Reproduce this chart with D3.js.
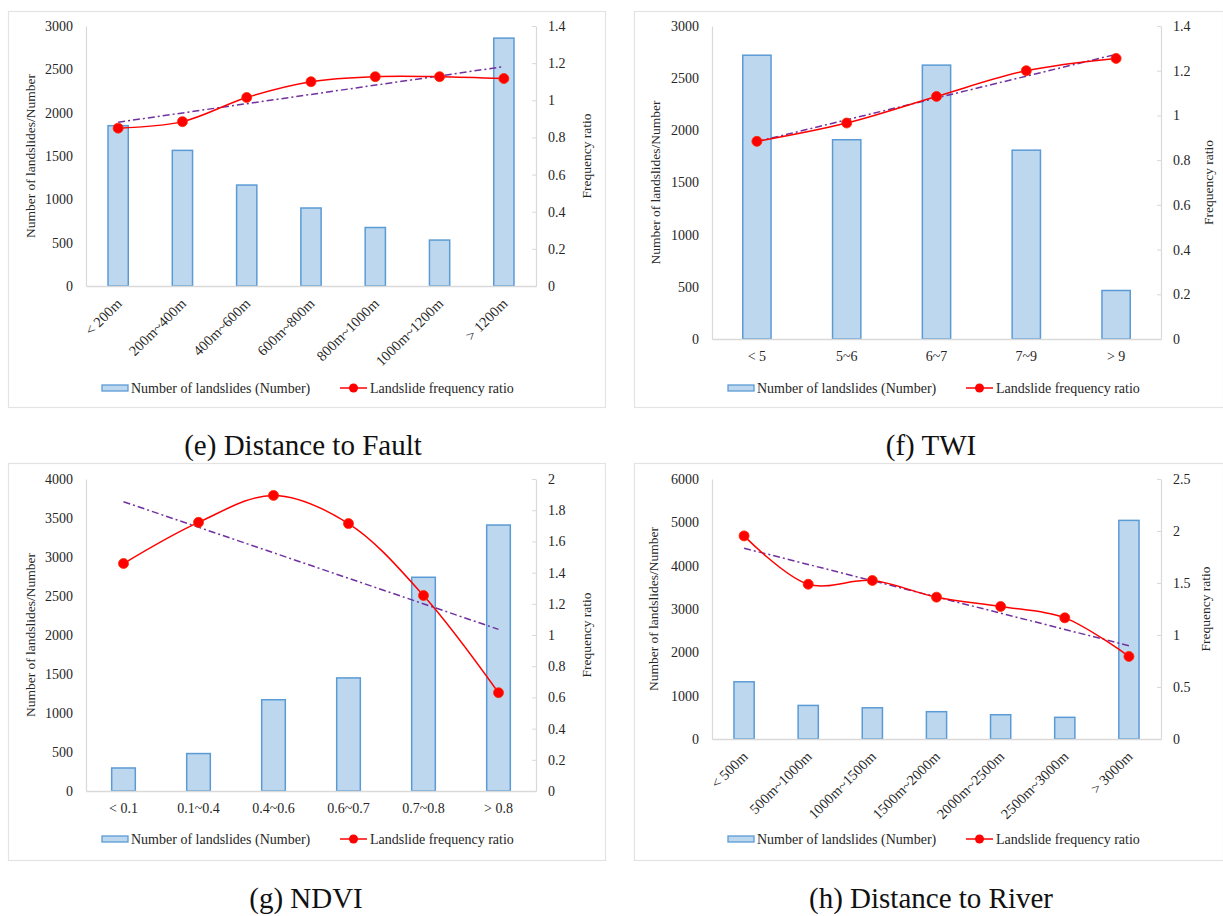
<!DOCTYPE html>
<html><head><meta charset="utf-8">
<script src="https://cdn.jsdelivr.net/npm/d3@7"></script>
<style>
html,body{margin:0;padding:0;background:#fff;}
svg{display:block;}
text{font-family:"Liberation Serif","Times New Roman",serif;}
</style></head>
<body><svg id="chart" width="1223" height="916"></svg>
<script>
// ---------- data ----------
const catsFault = ["< 200m","200m~400m","400m~600m","600m~800m","800m~1000m","1000m~1200m","> 1200m"];
const numFault  = [1850,1565,1165,900,675,530,2860];
const frFault   = [0.850,0.885,1.015,1.100,1.127,1.127,1.117];

const catsTWI = ["< 5","5~6","6~7","7~9","> 9"];
const numTWI  = [2720,1910,2625,1810,465];
const frTWI   = [0.884,0.966,1.085,1.200,1.255];

const catsNDVI = ["< 0.1","0.1~0.4","0.4~0.6","0.6~0.7","0.7~0.8","> 0.8"];
const numNDVI  = [295,480,1170,1450,2740,3410];
const frNDVI   = [1.458,1.722,1.895,1.714,1.253,0.630];

const catsRiver = ["< 500m","500m~1000m","1000m~1500m","1500m~2000m","2000m~2500m","2500m~3000m","> 3000m"];
const numRiver  = [1320,775,720,630,560,500,5045];
const frRiver   = [1.953,1.488,1.524,1.364,1.274,1.165,0.794];

const leftTitle = "Number of landslides/Number";
const rightTitle = "Frequency ratio";
const legendBar = "Number of landslides (Number)";
const legendLine = "Landslide frequency ratio";

// ---------- drawing ----------
const svg = d3.select("#chart");
svg.append("rect").attr("width",1223).attr("height",916).attr("fill","#fff");

const AX = "#d9d9d9", TXT = "#262626";

function linreg(ys){
  const n = ys.length, xs = d3.range(n);
  const mx = d3.mean(xs), my = d3.mean(ys);
  const b = d3.sum(xs, (x,i)=>(x-mx)*(ys[i]-my)) / d3.sum(xs, x=>(x-mx)*(x-mx));
  return [my - b*mx, b];
}

function panel(o){
  const g = svg.append("g");
  g.append("rect").attr("x",o.frame[0]+0.5).attr("y",o.frame[1]+0.5)
    .attr("width",o.frame[2]).attr("height",o.frame[3])
    .attr("fill","#fff").attr("stroke","#e3e3e3").attr("stroke-width",1.2);

  const [L,R,T,B] = o.plot;
  const x = d3.scaleBand().domain(o.cats).range([L,R]).padding(0);
  const cx = c => x(c) + x.bandwidth()/2;
  const y = d3.scaleLinear().domain([0,o.yMax]).range([B,T]);
  const r = d3.scaleLinear().domain([0,o.rMax]).range([B,T]);

  // left axis
  const ya = d3.axisLeft(y).tickValues(d3.range(0,o.yMax+1,o.yStep)).tickFormat(d3.format("d"))
    .tickSize(0).tickPadding(13).tickSizeOuter(0);
  const gy = g.append("g").attr("transform",`translate(${L},0)`).call(ya);
  gy.select(".domain").attr("stroke",AX).attr("stroke-width",1.2);
  gy.selectAll("text").attr("font-size",14).attr("fill",TXT);

  // right axis
  const nR = Math.round(o.rMax/o.rStep);
  const rTicks = d3.range(nR+1).map(i=>+(i*o.rStep).toFixed(2));
  const ra = d3.axisRight(r).tickValues(rTicks).tickFormat(d=>String(d)).tickSize(-4).tickPadding(12).tickSizeOuter(0);
  const gr = g.append("g").attr("transform",`translate(${R},0)`).call(ra);
  gr.select(".domain").attr("stroke",AX).attr("stroke-width",1.2);
  gr.selectAll(".tick line").attr("stroke",AX);
  gr.selectAll("text").attr("font-size",14).attr("fill",TXT);

  // bars
  const bw = x.bandwidth()*0.315;
  g.append("g").selectAll("rect").data(o.nums).join("rect")
    .attr("x",(d,i)=>cx(o.cats[i])-bw/2).attr("y",d=>y(d))
    .attr("width",bw).attr("height",d=>B-y(d))
    .attr("fill","#bdd7ee").attr("stroke","#5b9bd5").attr("stroke-width",1.5);

  // bottom axis
  const xa = d3.axisBottom(x).tickSize(0).tickSizeOuter(0).tickPadding(12);
  const gx = g.append("g").attr("transform",`translate(0,${B})`).call(xa);
  gx.select(".domain").attr("stroke",AX).attr("stroke-width",1.5);
  gx.selectAll("text").attr("font-size",14).attr("fill",TXT);
  if(o.rotate){
    gx.selectAll("text").attr("text-anchor","end").attr("y",0).attr("dy","0.35em")
      .attr("font-size",14.5)
      .attr("transform","translate(1,15) rotate(-45)");
  }

  // trend line
  const [a,b] = linreg(o.frs);
  const n = o.cats.length;
  g.append("line")
    .attr("x1",cx(o.cats[0])).attr("y1",r(a))
    .attr("x2",cx(o.cats[n-1])).attr("y2",r(a+b*(n-1)))
    .attr("stroke","#7030a0").attr("stroke-width",1.5).attr("stroke-dasharray","7,3,2,3");

  // smoothed line
  const line = d3.line().x((d,i)=>cx(o.cats[i])).y(d=>r(d)).curve(d3.curveCatmullRom.alpha(0.5));
  g.append("path").datum(o.frs).attr("d",line).attr("fill","none").attr("stroke","#ff0000").attr("stroke-width",1.5);
  g.append("g").selectAll("circle").data(o.frs).join("circle")
    .attr("cx",(d,i)=>cx(o.cats[i])).attr("cy",d=>r(d)).attr("r",5)
    .attr("fill","#ff0000").attr("stroke","#ff2a00").attr("stroke-width",0.8);

  // titles
  g.append("text").attr("transform",`translate(${o.ltx},${(T+B)/2}) rotate(-90)`)
    .attr("text-anchor","middle").attr("dy","0.35em").attr("font-size",13.5).attr("fill",TXT).text(leftTitle);
  g.append("text").attr("transform",`translate(${o.rtx},${(T+B)/2}) rotate(-90)`)
    .attr("text-anchor","middle").attr("dy","0.35em").attr("font-size",13.5).attr("fill",TXT).text(rightTitle);

  // legend
  const [lx1,lx2,ly] = o.legend;
  g.append("rect").attr("x",lx1).attr("y",ly-3).attr("width",26).attr("height",6)
    .attr("fill","#bdd7ee").attr("stroke","#5b9bd5").attr("stroke-width",1.3);
  g.append("text").attr("x",lx1+29).attr("y",ly).attr("dy","0.35em").attr("font-size",14).attr("fill",TXT).text(legendBar);
  g.append("line").attr("x1",lx2).attr("x2",lx2+27).attr("y1",ly).attr("y2",ly).attr("stroke","#ff0000").attr("stroke-width",1.5);
  g.append("circle").attr("cx",lx2+13.5).attr("cy",ly).attr("r",4.5).attr("fill","#ff0000");
  g.append("text").attr("x",lx2+30).attr("y",ly).attr("dy","0.35em").attr("font-size",14).attr("fill",TXT).text(legendLine);

  // caption
  svg.append("text").attr("x",o.cap[0]).attr("y",o.cap[1]).attr("dy","0.35em")
    .attr("text-anchor","middle").attr("font-size",29).attr("fill","#111")
    .text(o.caption);
}

panel({cats:catsFault, nums:numFault, frs:frFault, frame:[8,11,597,396], plot:[86,536,26,286],
  yMax:3000, yStep:500, rMax:1.4, rStep:0.2, rotate:true, ltx:30, rtx:586, legend:[102,340,388],
  caption:"(e) Distance to Fault", cap:[303,445]});
panel({cats:catsTWI, nums:numTWI, frs:frTWI, frame:[634,11,589,396], plot:[712,1161,26,339],
  yMax:3000, yStep:500, rMax:1.4, rStep:0.2, rotate:false, ltx:655, rtx:1208, legend:[728,966,388],
  caption:"(f) TWI", cap:[931,445]});
panel({cats:catsNDVI, nums:numNDVI, frs:frNDVI, frame:[8,463,597,397], plot:[86,536,479,791],
  yMax:4000, yStep:500, rMax:2, rStep:0.2, rotate:false, ltx:30, rtx:586, legend:[102,340,839],
  caption:"(g) NDVI", cap:[306,898]});
panel({cats:catsRiver, nums:numRiver, frs:frRiver, frame:[634,463,589,397], plot:[712,1161,479,739],
  yMax:6000, yStep:1000, rMax:2.5, rStep:0.5, rotate:true, ltx:653, rtx:1205, legend:[728,966,839],
  caption:"(h) Distance to River", cap:[931,898]});
</script>
</body></html>
